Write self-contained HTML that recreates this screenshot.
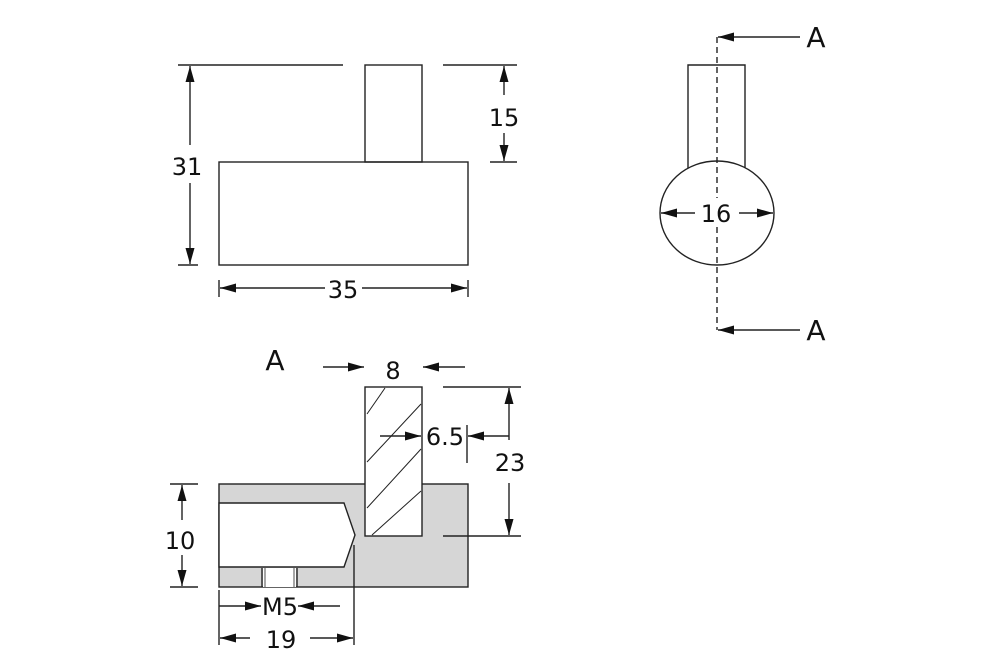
<!DOCTYPE html>
<html><head><style>html,body{margin:0;padding:0;background:#fff;}svg{display:block}</style></head>
<body>
<svg width="1000" height="667" viewBox="0 0 1000 667" xmlns="http://www.w3.org/2000/svg" font-family="'DejaVu Sans','Liberation Sans',sans-serif" fill="none" stroke="#222" stroke-width="1.4">
<defs>
<marker id="a" viewBox="0 0 10 10" refX="10" refY="5" markerWidth="16" markerHeight="9" markerUnits="userSpaceOnUse" orient="auto-start-reverse" preserveAspectRatio="none"><path d="M0,0 L10,5 L0,10z" fill="#111" stroke="none"/></marker>
</defs>
<!-- top view -->
<rect x="219" y="162" width="249" height="103"/>
<rect x="365" y="65" width="57" height="97"/>
<line x1="178" y1="65" x2="343" y2="65"/>
<line x1="443" y1="65" x2="517" y2="65"/>
<line x1="178" y1="265" x2="198" y2="265"/>
<line x1="490" y1="162" x2="517" y2="162"/>
<line x1="190" y1="145" x2="190" y2="66" marker-end="url(#a)"/>
<line x1="190" y1="183" x2="190" y2="264" marker-end="url(#a)"/>
<line x1="504" y1="95" x2="504" y2="66" marker-end="url(#a)"/>
<line x1="504" y1="133" x2="504" y2="161" marker-end="url(#a)"/>
<line x1="219" y1="280" x2="219" y2="297"/>
<line x1="468" y1="280" x2="468" y2="297"/>
<line x1="325" y1="288" x2="220" y2="288" marker-end="url(#a)"/>
<line x1="362" y1="288" x2="467" y2="288" marker-end="url(#a)"/>
<g fill="#111" stroke="none" font-size="24" text-anchor="middle">
<text x="187" y="175">31</text>
<text x="504" y="126">15</text>
<text x="343" y="298">35</text>
</g>
<!-- side view -->
<path d="M688,175 L688,65 L745,65 L745,175"/>
<ellipse cx="717" cy="213" rx="57" ry="52" fill="#fff"/>
<line x1="717" y1="37" x2="717" y2="330" stroke-dasharray="6,4"/>
<line x1="800" y1="37" x2="718" y2="37" marker-end="url(#a)"/>
<line x1="800" y1="330" x2="718" y2="330" marker-end="url(#a)"/>
<line x1="695" y1="213" x2="661" y2="213" marker-end="url(#a)"/>
<line x1="739" y1="213" x2="773" y2="213" marker-end="url(#a)"/>
<g fill="#111" stroke="none" font-size="24" text-anchor="middle">
<rect x="700" y="198" width="34" height="28" fill="#fff"/>
<text x="716" y="222">16</text>
<text x="816" y="47" font-size="28">A</text>
<text x="816" y="340" font-size="28">A</text>
<text x="275" y="370" font-size="28">A</text>
</g>
<!-- section -->
<rect x="219" y="484" width="249" height="103" fill="#d6d6d6"/>
<path d="M219,503 L344,503 L355,535 L344,567 L219,567z" fill="#fff"/>
<rect x="263" y="568" width="33" height="19" fill="#fff" stroke="none"/>
<line x1="262" y1="568" x2="262" y2="587"/><line x1="265" y1="568" x2="265" y2="587" stroke-width="0.8"/>
<line x1="294" y1="568" x2="294" y2="587" stroke-width="0.8"/><line x1="297" y1="568" x2="297" y2="587"/>
<rect x="365" y="387" width="57" height="149" fill="#fff"/>
<g stroke-width="1">
<path d="M367,414 L385,388 M367,462 L421,404 M367,508 L421,449 M372,535 L421,491"/>
</g>
<line x1="354" y1="545" x2="354" y2="645"/>
<line x1="219" y1="590" x2="219" y2="645"/>
<line x1="170" y1="484" x2="198" y2="484"/>
<line x1="170" y1="587" x2="198" y2="587"/>
<line x1="182" y1="520" x2="182" y2="485" marker-end="url(#a)"/>
<line x1="182" y1="555" x2="182" y2="586" marker-end="url(#a)"/>
<line x1="323" y1="367" x2="364" y2="367" marker-end="url(#a)"/>
<line x1="465" y1="367" x2="423" y2="367" marker-end="url(#a)"/>
<line x1="443" y1="387" x2="521" y2="387"/>
<line x1="443" y1="536" x2="521" y2="536"/>
<line x1="509" y1="440" x2="509" y2="388" marker-end="url(#a)"/>
<line x1="509" y1="483" x2="509" y2="535" marker-end="url(#a)"/>
<line x1="380" y1="436" x2="421" y2="436" marker-end="url(#a)"/>
<line x1="509" y1="436" x2="468" y2="436" marker-end="url(#a)"/>
<line x1="467" y1="425" x2="467" y2="463"/>
<line x1="219" y1="606" x2="261" y2="606" marker-end="url(#a)"/>
<line x1="340" y1="606" x2="298" y2="606" marker-end="url(#a)"/>
<line x1="250" y1="638" x2="220" y2="638" marker-end="url(#a)"/>
<line x1="310" y1="638" x2="353" y2="638" marker-end="url(#a)"/>
<g fill="#111" stroke="none" font-size="24" text-anchor="middle">
<text x="393" y="379">8</text>
<text x="445" y="445">6.5</text>
<text x="510" y="471">23</text>
<text x="180" y="549">10</text>
<text x="280" y="615">M5</text>
<text x="281" y="648">19</text>
</g>
</svg>
</body></html>
